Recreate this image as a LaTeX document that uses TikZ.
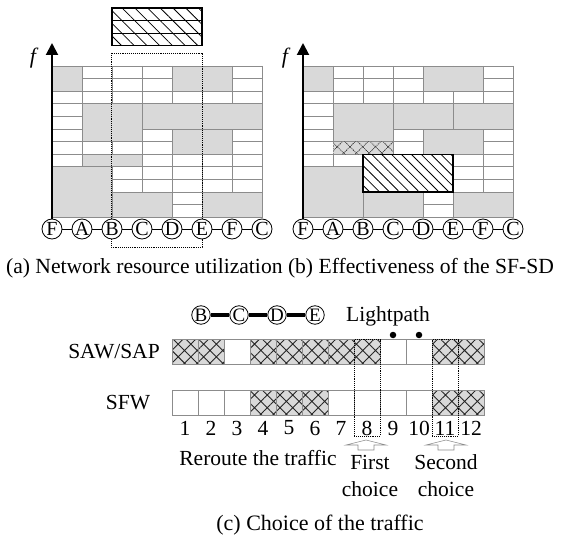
\documentclass[tikz,border=0pt]{standalone}
\usepackage{fontspec}
\setmainfont{Liberation Serif}
\usetikzlibrary{arrows.meta,patterns.meta}
\definecolor{cellgray}{RGB}{217,217,217}
\definecolor{linegray}{RGB}{140,140,140}

\begin{document}
\begin{tikzpicture}[
    x=1pt, y=-1pt,
    >=Latex,
    gridline/.style={draw=linegray, line width=0.6pt},
    used/.style={
        fill=cellgray,
        draw=linegray,
        line width=0.6pt
    },
    hatched/.style={
        preaction={fill=white},
        pattern={Lines[angle=-45,distance=#1,line width=0.8pt]},
        draw,
        line width=1.2pt
    },
    hatched/.default=9pt,
    crossed/.style={
        preaction={fill=cellgray},
        pattern={Hatch[angle=45,distance=9pt,line width=0.9pt]},
        pattern color=black!85,
        draw=linegray,
        line width=0.6pt
    },
    dotbox/.style={densely dotted, line width=0.9pt},
    hop/.style={
        draw,
        circle,
        line width=0.8pt,
        fill=white,
        minimum size=20pt,
        inner sep=0pt,
        font=\fontsize{20}{20}\selectfont
    },
    smallhop/.style={hop, minimum size=18.5pt, font=\fontsize{19}{19}\selectfont},
    axis/.style={line width=2pt, -{Triangle[length=12pt,width=12pt]}},
    label/.style={font=\fontsize{21.5}{27}\selectfont, inner sep=0pt, align=center},
    dot/.style={circle, fill, inner sep=0pt, minimum size=6.5pt},
    hollow/.style={draw=linegray, line width=0.6pt, fill=white}
]

\useasboundingbox (0,0) rectangle (566,535);

% LEFT GRID (a)
\begin{scope}[shift={(52,66)}, x=30pt, y=-12.6pt]
\foreach \c in {0,...,7} \draw[gridline] (\c,0) -- (\c,12);
\foreach \r in {0,...,12} \draw[gridline] (0,\r) -- (7,\r);
\draw[used] (0,0) rectangle (1,2);
\draw[used] (4,0) rectangle (6,2);
\draw[used] (1,3) rectangle (3,6);
\draw[used] (1,7) rectangle (3,8);
\draw[used] (3,3) rectangle (7,5);
\draw[used] (4,5) rectangle (6,7);
\draw[used] (0,8) rectangle (2,12);
\draw[used] (2,10) rectangle (4,12);
\draw[used] (5,10) rectangle (7,12);

% new request on top
\draw[hatched] (2,-4.6) rectangle (5,-1.6);
\draw[line width=1.2pt] (2,-3.6) -- (5,-3.6) (2,-2.6) -- (5,-2.6);
\end{scope}

\draw[dotbox] (111,53) rectangle (202,247);

\foreach \n [count=\k from 0] in {F,A,B,C,D,E,F,C}
    \node[hop] (l\k) at (52+30*\k,229) {\n};
\foreach \a/\b in {0/1,1/2,2/3,3/4,4/5,5/6,6/7}
    \draw[line width=0.8pt] (l\a) -- (l\b);

\coordinate (ltop) at (52,43);
\draw[axis] (l0) -- (ltop);
\node[label, font=\fontsize{22}{22}\selectfont\itshape] (lf) at (33,58) {f};

% RIGHT GRID (b)
\begin{scope}[shift={(303,66)}, x=30pt, y=-12.6pt]
\foreach \c in {0,...,7} \draw[gridline] (\c,0) -- (\c,12);
\foreach \r in {0,...,12} \draw[gridline] (0,\r) -- (7,\r);
\draw[used] (0,0) rectangle (1,2);
\draw[used] (4,0) rectangle (6,2);
\draw[used] (1,3) rectangle (3,6);
\draw[crossed, densely dotted] (1,6) rectangle (3,7);
\draw[used] (3,3) rectangle (5,5);
\draw[used] (5,3) rectangle (7,5);
\draw[used] (4,5) rectangle (6,7);
\draw[used] (0,8) rectangle (2,12);
\draw[used] (2,10) rectangle (4,12);
\draw[used] (5,10) rectangle (7,12);
\draw[hatched=7pt] (2,7) rectangle (5,10);
\end{scope}

\foreach \n [count=\k from 0] in {F,A,B,C,D,E,F,C}
    \node[hop] (r\k) at (303+30*\k,229) {\n};
\foreach \a/\b in {0/1,1/2,2/3,3/4,4/5,5/6,6/7}
    \draw[line width=0.8pt] (r\a) -- (r\b);

\coordinate (rtop) at (303,43);
\draw[axis] (r0) -- (rtop);
\node[label, font=\fontsize{22}{22}\selectfont\itshape] (rf) at (285,58) {f};

\node[label, font=\fontsize{21.6}{22}\selectfont] (capab) at (280,268)
{(a) Network resource utilization (b) Effectiveness of the SF-SD};

% CHOICE OF THE TRAFFIC (c)
\node[smallhop] (pB) at (201,315) {B};
\node[smallhop] (pC) at (239,315) {C};
\node[smallhop] (pD) at (277,315) {D};
\node[smallhop] (pE) at (315,315) {E};
\draw[line width=3.5pt] (pB) -- (pC);
\draw[line width=3.5pt] (pC) -- (pD);
\draw[line width=3.5pt] (pD) -- (pE);
\node[label] (light) at (388,316) {Lightpath};

\node[label] (saw) at (114,352) {SAW/SAP};
\node[label] (sfw) at (128,403) {SFW};

\foreach \i in {1,...,12} {
    \draw[gridline] (172+26*\i-26,339.5) rectangle (172+26*\i,364.5);
    \draw[gridline] (172+26*\i-26,390) rectangle (172+26*\i,415);
    \node[label] (n\i) at (159+26*\i,428) {\i};
}
\foreach \i in {1,2,4,5,6,7,8,11,12}
    \draw[crossed] (172+26*\i-26,339.5) rectangle (172+26*\i,364.5);
\foreach \i in {4,5,6,11,12}
    \draw[crossed] (172+26*\i-26,390) rectangle (172+26*\i,415);

\node[dot] (d9) at (393,335) {};
\node[dot] (d10) at (419,335) {};

\draw[dotbox] (354,339.5) rectangle (380,436);
\draw[dotbox] (432,339.5) rectangle (458,436);

\draw[hollow] (366,440) -- (386,445) -- (374,445) -- (374,450)
    -- (358,450) -- (358,445) -- (346,445) -- cycle;
\draw[hollow] (446,440) -- (466,445) -- (454,445) -- (454,450)
    -- (438,450) -- (438,445) -- (426,445) -- cycle;

\node[label] (reroute) at (258,458) {Reroute the traffic};
\node[label] (first) at (370,476) {First\\choice};
\node[label] (second) at (446,476) {Second\\choice};

\node[label, font=\fontsize{22}{22}\selectfont] (capc) at (320,525) {(c) Choice of the traffic};

\end{tikzpicture}
\end{document}
